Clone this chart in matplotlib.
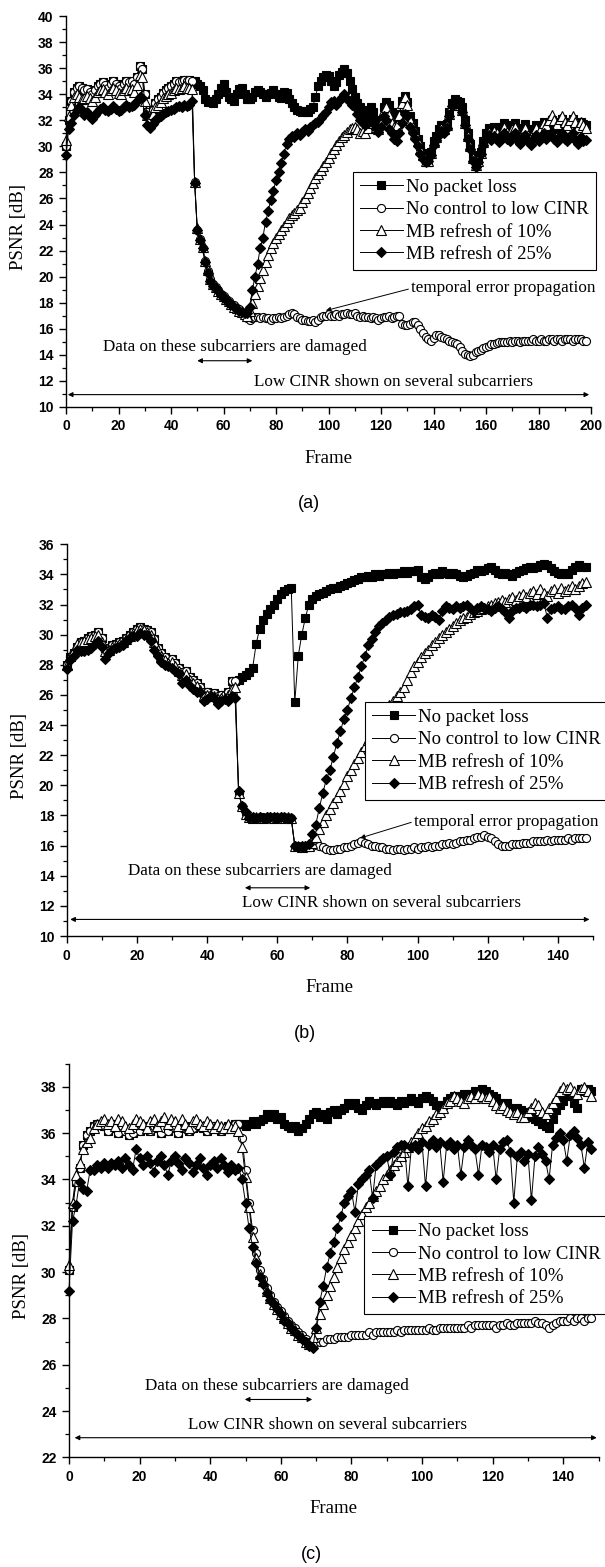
import matplotlib
matplotlib.use('Agg')
import matplotlib.pyplot as plt
from matplotlib.ticker import MultipleLocator
import numpy as np

plt.rcParams['font.family'] = 'Liberation Serif'
plt.rcParams['axes.linewidth'] = 1.0

labels = ['No packet loss', 'No control to low CINR', 'MB refresh of 10%', 'MB refresh of 25%']

# ---------------- (a) ----------------
a_pre = [30.0, 32.0, 33.5, 34.2, 34.5, 34.6, 34.5, 34.3, 34.4, 34.2,
         34.0, 34.3, 34.6, 34.8, 34.9, 34.7, 34.5, 34.8, 35.0, 34.8,
         34.6, 34.5, 34.8, 35.0, 34.9, 35.0, 34.8, 35.3, 36.2, 35.9,
         34.0, 32.6, 32.4, 32.8, 33.3, 33.6, 33.8, 34.1, 34.3, 34.5,
         34.6, 34.8, 35.0, 34.9, 35.0, 35.1, 35.0, 35.1, 35.0]
a_nopl = a_pre + [
    35.0, 34.8, 34.6, 34.3, 33.6, 33.4, 33.5, 33.3, 33.6, 34.0,
    34.5, 34.8, 34.2, 33.8, 33.6, 33.5, 34.0, 34.4, 34.5, 34.0,
    33.6, 33.6, 33.8, 34.2, 34.3, 34.2, 34.0, 33.8, 34.0, 34.1,
    34.3, 34.0, 33.8, 33.7, 34.2, 34.1, 33.6, 33.3, 33.0, 32.8,
    32.7, 32.6, 32.7, 32.6, 32.9, 33.0, 33.8, 34.6, 35.0, 35.3,
    35.5, 35.4, 35.0, 34.6, 34.9, 35.5, 35.7, 35.9, 35.6, 35.0,
    34.4, 33.8, 33.3, 33.0, 32.5, 32.4, 32.8, 33.0, 32.6, 32.0,
    31.7, 32.0, 33.0, 33.4, 33.2, 32.6, 32.0, 31.8, 32.5, 33.5,
    33.9, 33.4, 32.3, 31.8, 31.2, 30.6, 30.0, 29.5, 29.0, 28.9,
    29.6, 30.4, 30.8, 31.3, 31.6, 31.5, 31.7, 32.6, 33.3, 33.6,
    33.5, 33.4, 33.0, 32.0, 31.0, 30.2, 29.3, 28.7, 29.0, 29.6,
    30.4, 31.0, 31.4, 31.2, 31.5, 31.3, 31.0, 31.5, 31.8, 31.4,
    31.2, 31.6, 31.8, 31.2, 31.0, 31.4, 31.7, 31.2, 30.9, 31.3,
    31.6, 31.2, 31.5, 31.9, 31.6, 31.8, 32.0, 31.7, 31.5, 31.9,
    32.1, 31.8, 31.6, 31.9, 32.1, 31.8, 31.5, 31.9, 31.7, 31.6]
a_noctrl = a_pre + [
    27.3, 23.6, 22.9, 22.2, 21.2, 20.4, 19.8, 19.4, 19.2, 19.0,
    18.7, 18.5, 18.3, 18.1, 17.9, 17.8, 17.6, 17.5, 17.3, 17.2,
    16.8, 16.7, 16.8, 16.9, 16.9, 16.8, 16.9, 16.8, 16.8, 16.7,
    16.8, 16.8, 16.9, 16.8, 16.9, 17.0, 17.1, 17.2, 17.1, 16.9,
    16.8, 16.7, 16.7, 16.6, 16.6, 16.7, 16.5, 16.7, 16.9, 17.0,
    17.0, 17.1, 17.0, 17.0, 17.1, 17.0, 17.1, 17.1, 17.2, 17.1,
    17.1, 17.2, 17.0, 16.9, 17.0, 16.9, 16.9, 16.8, 16.9, 16.8,
    16.7, 16.8, 16.9, 16.9, 17.0, 16.8, 16.9, 17.0, 17.0, 16.4,
    16.3, 16.3, 16.4, 16.5, 16.5, 16.3, 16.0, 15.7, 15.4, 15.2,
    15.1, 15.3, 15.5, 15.5, 15.4, 15.3, 15.2, 15.1, 15.0, 14.9,
    14.8, 14.6, 14.3, 14.1, 14.0, 13.9, 14.0, 14.2, 14.3, 14.4,
    14.5, 14.6, 14.7, 14.8, 14.8, 14.9, 15.0, 15.0, 15.0, 15.0,
    15.1, 15.0, 15.1, 15.1, 15.0, 15.1, 15.1, 15.1, 15.1, 15.2,
    15.1, 15.1, 15.2, 15.1, 15.1, 15.2, 15.2, 15.1, 15.2, 15.2,
    15.1, 15.2, 15.2, 15.2, 15.1, 15.2, 15.2, 15.2, 15.1, 15.1]
a_mb10 = [
    30.5, 32.3, 33.2, 33.8, 34.0, 33.8, 33.6, 33.7, 33.9, 33.7,
    33.5, 33.8, 34.2, 34.3, 34.4, 34.2, 34.0, 34.3, 34.5, 34.3,
    34.1, 34.0, 34.3, 34.5, 34.3, 34.4, 34.2, 34.7, 35.5, 35.3,
    33.5, 32.4, 32.2, 32.5, 33.0, 33.2, 33.4, 33.7, 33.9, 34.0,
    34.1, 34.3, 34.5, 34.4, 34.5, 34.6, 34.5, 34.5, 34.4,
    27.3, 23.7, 22.9, 22.3, 21.2, 20.5, 19.8, 19.4, 19.2, 18.9,
    18.7, 18.5, 18.3, 18.1, 17.9, 17.7, 17.6, 17.4, 17.3, 17.1,
    17.0, 17.4, 18.0, 18.7, 19.3, 19.9, 20.5, 21.1, 21.7, 22.2,
    22.6, 23.0, 23.3, 23.6, 23.9, 24.2, 24.5, 24.7, 24.9, 25.1,
    25.3, 25.7, 26.0, 26.4, 26.8, 27.2, 27.6, 27.9, 28.2, 28.5,
    28.8, 29.1, 29.5, 29.8, 30.1, 30.4, 30.7, 30.9, 31.1, 31.3,
    31.4, 31.5, 31.3, 31.0, 31.2, 31.0, 31.4, 32.0, 31.8, 31.5,
    31.3, 31.8, 32.8, 33.0, 32.4, 31.8, 31.5, 31.6, 32.4, 33.3,
    33.8, 33.2, 32.0, 31.5, 31.0, 30.4, 29.8, 29.3, 28.9, 28.9,
    29.5, 30.3, 30.7, 31.1, 31.4, 31.3, 31.6, 32.5, 33.2, 33.5,
    33.4, 33.2, 32.8, 31.8, 30.8, 30.0, 29.1, 28.6, 28.9, 29.5,
    30.3, 30.8, 31.1, 30.9, 31.2, 31.0, 30.7, 31.2, 31.5, 31.1,
    30.9, 31.3, 31.5, 30.9, 30.7, 31.1, 31.4, 30.9, 30.6, 31.0,
    31.4, 31.0, 31.4, 31.8, 31.6, 32.0, 32.4, 32.0, 31.7, 32.1,
    32.3, 31.9, 31.6, 32.0, 32.3, 31.9, 31.5, 31.9, 31.6, 31.4]
a_mb25 = [
    29.3, 31.3, 31.8, 32.4, 32.8, 33.0, 32.8, 32.4, 32.6, 32.3,
    32.1, 32.4, 32.7, 32.9, 33.0, 32.8, 32.7, 32.9, 33.1, 32.9,
    32.7, 32.8, 33.0, 33.2, 33.0, 33.1, 33.2, 33.5, 33.8, 33.7,
    32.4, 31.6, 31.4, 31.7, 32.0, 32.2, 32.3, 32.5, 32.6, 32.7,
    32.8, 32.9, 33.0, 33.1, 33.0, 33.2, 33.1, 33.2, 33.5,
    27.2, 23.6, 22.8, 22.2, 21.1, 20.3, 19.7, 19.3, 19.1, 18.9,
    18.6, 18.4, 18.2, 18.0, 17.9, 17.7, 17.5, 17.4, 17.3, 17.2,
    17.2, 17.7, 19.0, 20.0, 21.0, 22.2, 23.0, 24.2, 25.0, 25.9,
    26.6, 27.4, 28.0, 28.7, 29.4, 30.2, 30.6, 30.8, 30.7, 31.0,
    30.9, 31.1, 31.3, 31.2, 31.5, 31.6, 31.8, 31.9, 32.2, 32.4,
    32.6, 33.0, 33.4, 33.5, 33.2, 33.5, 33.8, 34.0, 33.6, 33.5,
    33.2, 33.0, 32.5, 32.0, 31.8, 31.6, 31.8, 32.2, 31.8, 31.4,
    31.1, 31.5, 32.3, 32.0, 31.3, 31.0, 30.6, 30.4, 31.0, 31.8,
    32.5, 32.3, 31.5, 31.0, 30.6, 30.0, 29.4, 29.0, 28.8, 28.9,
    29.3, 30.1, 30.5, 30.9, 31.2, 31.0, 31.4, 32.3, 33.1, 33.4,
    33.3, 33.1, 32.6, 31.6, 30.6, 29.8, 28.9, 28.4, 28.8, 29.4,
    30.1, 30.6, 30.9, 30.5, 30.8, 30.6, 30.3, 30.8, 31.0, 30.6,
    30.4, 30.8, 31.0, 30.4, 30.2, 30.7, 30.9, 30.4, 30.1, 30.6,
    30.9, 30.4, 30.7, 31.0, 30.6, 30.9, 31.1, 30.6, 30.3, 30.8,
    31.0, 30.6, 30.4, 30.8, 31.0, 30.5, 30.2, 30.7, 30.4, 30.5]

# ---------------- (b) ----------------
b_pre = [28.0, 28.5, 28.8, 29.2, 29.5, 29.6, 29.8, 29.9, 30.0, 30.2,
         29.8, 29.1, 29.1, 29.3, 29.4, 29.5, 29.6, 29.8, 30.0, 30.2,
         30.4, 30.5, 30.4, 30.3, 30.2, 29.7, 29.1, 28.8, 28.5, 28.2,
         28.4, 28.1, 27.8, 27.5, 27.6, 27.2, 27.0, 26.8, 26.5, 26.2,
         26.2, 26.0, 26.1, 25.9, 26.0, 26.0, 26.2, 26.9, 26.9]
b_nopl = b_pre + [
    27.0, 27.2, 27.3, 27.5, 27.8, 29.4, 30.4, 31.0, 31.4, 31.7,
    32.0, 32.4, 32.7, 32.9, 33.0, 33.1, 25.5, 28.6, 30.0, 31.1,
    32.0, 32.4, 32.6, 32.7, 32.8, 32.9, 33.0, 33.1, 33.1, 33.2,
    33.3, 33.4, 33.5, 33.6, 33.7, 33.8, 33.8, 33.9, 33.8, 34.0,
    33.9, 34.0, 34.0, 34.1, 34.0, 34.1, 34.1, 34.2, 34.1, 34.2,
    34.2, 34.3, 33.8, 33.7, 33.8, 34.0, 34.1, 34.0, 34.2, 34.1,
    34.0, 34.1, 34.0, 33.9, 33.8, 33.9, 34.0, 34.1, 34.3, 34.2,
    34.3, 34.4, 34.5, 34.3, 34.1, 34.0, 34.1, 34.0, 33.9, 34.1,
    34.2, 34.3, 34.4, 34.5, 34.4, 34.5, 34.6, 34.7, 34.6, 34.4,
    34.2, 34.1, 34.0, 34.1, 34.0, 34.3, 34.5, 34.6, 34.5, 34.5]
b_noctrl = b_pre + [
    19.5, 18.6, 18.1, 17.9, 17.8, 17.8, 17.9, 17.9, 17.8, 17.9,
    17.9, 17.9, 17.8, 17.9, 17.8, 17.8, 16.0, 16.0, 16.0, 15.9,
    16.0, 16.0, 16.1, 16.0, 15.9, 15.8, 15.7, 15.7, 15.8, 15.8,
    15.9, 15.9, 16.0, 16.1, 16.2, 16.3, 16.2, 16.1, 16.0, 16.0,
    15.9, 15.9, 15.8, 15.8, 15.7, 15.8, 15.8, 15.7, 15.8, 15.8,
    15.9, 15.8, 15.9, 15.9, 16.0, 15.9, 16.0, 16.0, 16.1, 16.1,
    16.2, 16.1, 16.2, 16.3, 16.3, 16.4, 16.4, 16.5, 16.6, 16.6,
    16.7, 16.6, 16.5, 16.3, 16.1, 16.0, 16.0, 16.0, 16.1, 16.1,
    16.1, 16.2, 16.2, 16.2, 16.3, 16.3, 16.3, 16.3, 16.4, 16.3,
    16.4, 16.4, 16.4, 16.4, 16.5, 16.4, 16.5, 16.5, 16.5, 16.5]
b_mb10 = [
    28.0, 28.6, 29.0, 29.4, 29.5, 29.6, 29.7, 29.8, 29.9, 30.0,
    29.5, 28.9, 29.0, 29.2, 29.3, 29.4, 29.5, 29.7, 29.9, 30.1,
    30.3, 30.4, 30.3, 30.2, 30.0, 29.5, 29.0, 28.6, 28.3, 28.1,
    28.2, 27.9, 27.6, 27.3, 27.4, 27.0, 26.8, 26.6, 26.3, 26.0,
    26.0, 25.9, 25.9, 25.7, 25.8, 25.8, 26.0, 26.4, 26.5,
    19.5, 18.6, 18.1, 17.9, 17.8, 17.9, 17.9, 17.8, 17.9, 17.9,
    17.8, 17.9, 17.9, 17.8, 17.9, 17.8, 16.0, 16.0, 15.9, 16.0,
    16.0, 16.2, 16.6, 17.1, 17.6, 18.0, 18.4, 18.8, 19.2, 19.6,
    20.1, 20.6, 21.0, 21.4, 21.8, 22.2, 22.6, 23.0, 23.4, 23.8,
    24.2, 24.6, 25.0, 25.3, 25.6, 25.9, 26.2, 26.5, 27.0, 27.5,
    27.9, 28.2, 28.5, 28.8, 29.0, 29.3, 29.5, 29.8, 30.0, 30.2,
    30.4, 30.6, 30.8, 31.0, 31.1, 31.2, 31.4, 31.5, 31.6, 31.7,
    31.8, 31.9, 32.0, 32.1, 32.2, 32.3, 32.2, 32.4, 32.5, 32.3,
    32.6, 32.7, 32.5, 32.8, 32.9, 32.7, 33.0, 32.8, 32.6, 32.9,
    33.0, 32.8, 33.1, 32.9, 33.0, 33.2, 33.0, 33.2, 33.4, 33.5]
b_mb25 = [
    27.7, 28.3, 28.6, 29.0, 28.9, 28.9, 29.0, 29.1, 29.4, 29.6,
    29.2, 28.4, 28.8, 29.0, 29.1, 29.2, 29.3, 29.6, 29.8, 29.9,
    29.9, 30.1, 30.0, 30.0, 29.6, 29.0, 28.6, 28.2, 28.0, 27.9,
    27.8, 27.6, 27.4, 26.8, 27.0, 26.6, 26.4, 26.2, 26.2, 25.6,
    25.7, 25.9, 25.8, 25.4, 25.6, 25.7, 25.6, 25.9, 25.8,
    19.6, 18.6, 18.2, 17.8, 17.9, 17.8, 17.9, 17.8, 17.9, 17.9,
    17.9, 17.8, 17.9, 17.9, 17.8, 17.8, 16.0, 15.9, 16.0, 16.0,
    16.1, 16.8, 17.4, 18.5, 19.5, 20.4, 21.0, 21.9, 22.8, 23.6,
    24.4, 25.0, 25.8, 26.5, 27.2, 27.9, 28.6, 29.3, 29.7, 30.2,
    30.6, 30.8, 31.0, 31.2, 31.3, 31.4, 31.5, 31.5, 31.6, 31.7,
    31.9, 32.0, 31.3, 31.2, 31.1, 31.3, 31.2, 31.0, 31.6, 31.9,
    31.8, 31.7, 31.9, 31.8, 31.9, 32.0, 31.8, 31.6, 31.8, 31.9,
    31.8, 31.7, 31.6, 31.8, 31.9, 31.7, 31.5, 31.1, 31.6, 31.8,
    31.8, 31.9, 31.8, 32.0, 32.0, 31.9, 32.0, 32.1, 31.1, 31.7,
    31.8, 31.9, 31.7, 31.7, 31.9, 32.0, 31.8, 31.3, 31.8, 32.0]

# ---------------- (c) ----------------
c_pre = [30.1, 32.8, 33.9, 34.5, 35.5, 35.9, 36.1, 36.3, 36.4, 36.4,
         36.3, 36.1, 36.4, 36.2, 36.0, 36.3, 36.1, 35.9, 36.0, 36.2,
         36.1, 36.3, 36.2, 36.1, 36.3, 36.2, 36.0, 36.2, 36.1, 36.3,
         36.2, 36.0, 36.2, 36.3, 36.1, 36.2, 36.4, 36.3, 36.2, 36.1,
         36.2, 36.3, 36.2, 36.1, 36.2, 36.3, 36.2, 36.4, 36.4]
c_nopl = c_pre + [
    36.4, 36.3, 36.4, 36.5, 36.4, 36.5, 36.6, 36.8, 36.7, 36.8,
    36.6, 36.7, 36.4, 36.3, 36.2, 36.3, 36.1, 36.2, 36.4, 36.6,
    36.8, 36.9, 36.7, 36.8, 36.6, 36.9, 37.0, 36.8, 37.0, 37.1,
    37.3, 37.2, 37.3, 37.1, 37.0, 37.2, 37.4, 37.3, 37.2, 37.3,
    37.4, 37.3, 37.4, 37.3, 37.2, 37.4, 37.3, 37.4, 37.5, 37.4,
    37.3, 37.5, 37.6, 37.5, 37.4, 37.2, 37.1, 37.2, 37.4, 37.5,
    37.6, 37.5, 37.6, 37.7, 37.6, 37.7, 37.8, 37.7, 37.9, 37.8,
    37.7, 37.6, 37.5, 37.3, 37.2, 37.3, 37.1, 37.0, 37.1, 37.0,
    36.9, 36.8, 36.7, 36.6, 36.5, 36.4, 36.3, 36.2, 36.6, 37.0,
    37.2, 37.4, 37.6, 37.7, 37.3, 37.1, 37.9, 37.8, 37.9, 37.8]
c_noctrl = c_pre + [
    35.8, 34.4, 33.0, 31.8, 30.8, 30.1, 29.7, 29.3, 29.0, 28.7,
    28.5, 28.3, 28.1, 27.9, 27.7, 27.6, 27.4, 27.3, 27.1, 27.0,
    26.9, 27.0, 27.0, 27.0, 27.1, 27.1, 27.1, 27.2, 27.2, 27.2,
    27.2, 27.3, 27.3, 27.3, 27.3, 27.3, 27.4, 27.3, 27.4, 27.4,
    27.4, 27.4, 27.4, 27.4, 27.5, 27.4, 27.5, 27.5, 27.5, 27.5,
    27.5, 27.5, 27.5, 27.6, 27.5, 27.5, 27.6, 27.6, 27.6, 27.6,
    27.6, 27.6, 27.6, 27.6, 27.7, 27.6, 27.7, 27.7, 27.7, 27.7,
    27.7, 27.7, 27.6, 27.7, 27.7, 27.8, 27.7, 27.7, 27.8, 27.8,
    27.8, 27.8, 27.8, 27.9, 27.8, 27.8, 27.7, 27.6, 27.7, 27.8,
    27.9, 27.9, 27.9, 28.0, 27.9, 28.0, 28.0, 27.9, 28.0, 28.0]
c_mb10 = [
    30.3, 33.0, 34.2, 34.7, 35.3, 35.6, 35.8, 36.2, 36.4, 36.5,
    36.6, 36.4, 36.5, 36.3, 36.6, 36.5, 36.3, 36.2, 36.4, 36.6,
    36.5, 36.4, 36.2, 36.5, 36.6, 36.3, 36.5, 36.7, 36.4, 36.6,
    36.5, 36.3, 36.6, 36.4, 36.2, 36.5, 36.6, 36.4, 36.3, 36.5,
    36.4, 36.2, 36.4, 36.3, 36.2, 36.4, 36.2, 36.3, 36.1,
    35.4, 34.1, 32.8, 31.5, 30.6, 29.9, 29.6, 29.2, 28.9, 28.6,
    28.4, 28.2, 28.0, 27.8, 27.6, 27.5, 27.3, 27.2, 27.0, 26.9,
    27.2, 27.6, 28.2, 28.6, 29.0, 29.4, 29.8, 30.2, 30.6, 31.0,
    31.3, 31.6, 31.9, 32.2, 32.5, 32.8, 33.0, 33.3, 33.5, 33.7,
    34.0, 34.2, 34.4, 34.6, 34.8, 35.0, 35.2, 35.4, 35.6, 35.8,
    36.0, 36.2, 36.3, 36.5, 36.6, 36.8, 36.9, 37.1, 37.3, 37.4,
    37.6, 37.5, 37.4, 37.3, 37.5, 37.6, 37.5, 37.7, 37.6, 37.5,
    37.6, 37.4, 37.2, 37.1, 37.2, 37.0, 36.9, 36.8, 36.9, 36.7,
    36.7, 36.9, 37.1, 37.3, 37.2, 36.9, 36.8, 37.1, 37.3, 37.5,
    37.8, 38.0, 37.9, 38.0, 37.8, 37.7, 37.9, 38.0, 37.8, 37.6]
c_mb25 = [
    29.2, 32.2, 32.9, 33.9, 33.6, 33.5, 34.4, 34.4, 34.6, 34.5,
    34.7, 34.5, 34.7, 34.6, 34.8, 34.5, 34.9, 34.6, 34.4, 35.3,
    34.9, 34.6, 35.0, 34.7, 34.3, 34.8, 35.0, 34.6, 34.2, 34.8,
    35.0, 34.7, 34.4, 34.9, 34.7, 34.3, 34.6, 34.9, 34.5, 34.2,
    34.6, 34.8, 34.5, 34.9, 34.6, 34.3, 34.6, 34.4, 34.5,
    34.0, 33.0, 31.9, 31.1, 30.4, 29.8, 29.5, 29.1, 28.8, 28.6,
    28.4, 28.2, 27.9, 27.8, 27.6, 27.4, 27.3, 27.1, 27.0, 26.8,
    26.7, 27.6, 28.7, 29.4, 30.2, 30.8, 31.3, 31.9, 32.4, 33.0,
    33.3, 33.5, 32.6, 33.8, 34.0, 34.2, 34.4, 33.2, 34.6, 34.8,
    34.9, 35.0, 34.2, 35.2, 35.4, 35.5, 35.5, 33.7, 35.4, 35.5,
    35.3, 35.6, 33.7, 35.5, 35.7, 35.4, 35.6, 33.9, 35.5, 35.6,
    35.3, 35.5, 34.2, 35.4, 35.7, 35.5, 35.3, 34.2, 35.5, 35.4,
    35.2, 35.5, 34.0, 35.3, 35.6, 35.7, 35.2, 33.0, 35.0, 35.2,
    34.8, 35.1, 33.1, 35.0, 35.4, 35.1, 34.8, 34.0, 35.5, 35.8,
    36.0, 35.7, 34.8, 35.9, 36.1, 35.8, 35.5, 34.5, 35.6, 35.3]

styles = [dict(marker='s', mfc='k', ms=5.6),
          dict(marker='o', mfc='w', ms=5.8),
          dict(marker='^', mfc='w', ms=6.6),
          dict(marker='D', mfc='k', ms=4.7)]

W, H = 605, 1567
fig = plt.figure(figsize=(W / 100, H / 100), dpi=100)


def panel(rect, series, xmax, ylo, yhi, yticklo, legend_xy, tag, tag_x):
    l, r, t, b = rect
    ax = fig.add_axes([l / W, 1 - b / H, (r - l) / W, (b - t) / H])
    for y, st, lab in zip(series, styles, labels):
        ax.plot(np.arange(len(y)), y, color='k', lw=0.7, mec='k', mew=0.8,
                label=lab, clip_on=False, **st)
    ax.set_xlim(0, xmax)
    ax.set_ylim(ylo, yhi)
    ax.spines['top'].set_visible(False)
    ax.spines['right'].set_visible(False)
    ax.xaxis.set_major_locator(MultipleLocator(20))
    ax.xaxis.set_minor_locator(MultipleLocator(10))
    ax.set_yticks(np.arange(yticklo, yhi + 0.01, 2))
    ax.yaxis.set_minor_locator(MultipleLocator(1))
    ax.tick_params(which='major', direction='out', length=5, width=1.0, pad=4)
    ax.tick_params(which='minor', direction='out', length=3, width=0.9)
    for tl in ax.get_xticklabels() + ax.get_yticklabels():
        tl.set_family('Liberation Sans')
        tl.set_fontsize(10)
        tl.set_fontweight('bold')
    ax.set_xlabel('Frame', fontsize=13.5)
    ax.set_ylabel('PSNR [dB]', fontsize=13.5)
    ax.xaxis.set_label_coords(0.5, -43 / (b - t))
    ax.yaxis.set_label_coords(-39 / (r - l), 0.46)
    leg = ax.legend(loc='upper left', bbox_to_anchor=legend_xy, fontsize=13.5,
                    frameon=True, fancybox=False, edgecolor='k', framealpha=1,
                    borderaxespad=0, borderpad=0.38, labelspacing=0.28,
                    handlelength=2.3, handletextpad=0.16)
    leg.get_frame().set_linewidth(0.8)
    fig.text(tag_x / W, 1 - (b + 97) / H, tag,
             ha='center', va='center', fontsize=13, family='Liberation Sans')
    return ax


def darrow(ax, x0, x1, y):
    ax.annotate('', xy=(x0, y), xytext=(x1, y), annotation_clip=False,
                arrowprops=dict(arrowstyle='<|-|>', color='k', lw=0.8,
                                mutation_scale=7, shrinkA=0, shrinkB=0))


def temporal(ax, xt, yt, xp, yp):
    ax.annotate('temporal error propagation', xy=(xp, yp), xytext=(xt, yt),
                ha='left', va='center', fontsize=12.3,
                arrowprops=dict(arrowstyle='-|>', color='k', lw=0.7,
                                mutation_scale=7, shrinkA=0, shrinkB=0,
                                relpos=(0, 0.5)))


fs = 12.3

ax = panel((66, 591, 16, 407), [a_nopl, a_noctrl, a_mb10, a_mb25], 200, 10, 40, 10,
           (0.546, 0.602), '(a)', 309)
temporal(ax, 131.5, 19.1, 99, 17.4)
ax.text(64.4, 14.6, 'Data on these subcarriers are damaged', ha='center', va='center', fontsize=fs)
darrow(ax, 50, 71, 13.55)
ax.text(124.6, 11.9, 'Low CINR shown on several subcarriers', ha='center', va='center', fontsize=fs)
darrow(ax, 0.7, 199.3, 10.95)

ax = panel((66.7, 593, 544.3, 936), [b_nopl, b_noctrl, b_mb10, b_mb25], 150, 10, 36, 10,
           (0.567, 0.598), '(b)', 305)
temporal(ax, 99, 17.6, 83.6, 16.5)
ax.text(55, 14.3, 'Data on these subcarriers are damaged', ha='center', va='center', fontsize=fs)
darrow(ax, 50.8, 69.4, 13.2)
ax.text(89.6, 12.2, 'Low CINR shown on several subcarriers', ha='center', va='center', fontsize=fs)
darrow(ax, 1, 149, 11.1)

ax = panel((69, 598.5, 1063.5, 1457.4), [c_nopl, c_noctrl, c_mb10, c_mb25], 150, 22, 39, 22,
           (0.558, 0.613), '(c)', 311)
ax.text(59, 25.07, 'Data on these subcarriers are damaged', ha='center', va='center', fontsize=fs)
darrow(ax, 49.8, 68.9, 24.5)
ax.text(73.2, 23.4, 'Low CINR shown on several subcarriers', ha='center', va='center', fontsize=fs)
darrow(ax, 1.6, 149.5, 22.85)

fig.savefig('out.png', dpi=100)
